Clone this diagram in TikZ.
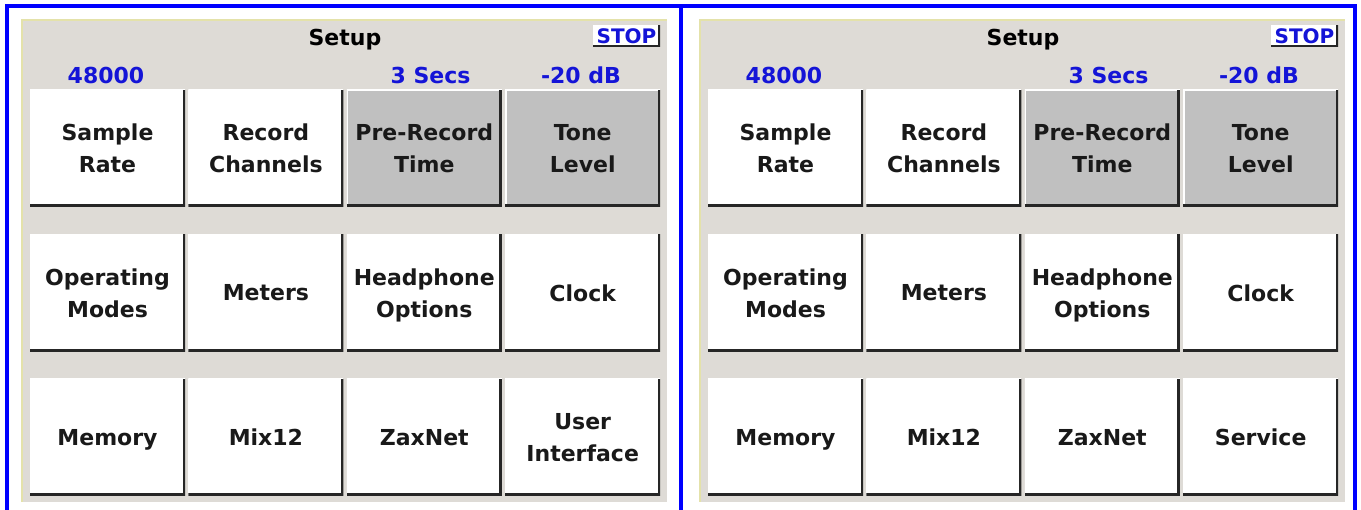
\documentclass[tikz,border=0pt]{standalone}
\usepackage{fontspec}
\setmainfont{DejaVu Sans}
\usetikzlibrary{positioning}
\definecolor{screenbg}{RGB}{222,219,214}
\definecolor{screenedge}{RGB}{228,226,170}
\definecolor{framebl}{RGB}{0,0,255}
\definecolor{valbl}{RGB}{20,20,215}
\definecolor{btngray}{RGB}{192,192,192}

\begin{document}
\begin{tikzpicture}[x=1pt,y=-1pt]
\tikzstyle{btn}=[rectangle, fill=white, inner sep=0pt,
minimum width=155pt, minimum height=117pt, align=center,
font=\fontsize{22}{32}\selectfont\bfseries, text=black!90,
text depth=0pt,
node distance=3pt and 3pt,
path picture={
\draw[line width=3pt,white] (path picture bounding box.south west) -- (path picture bounding box.north west) -- (path picture bounding box.north east);
\draw[line width=5pt,black!85] (path picture bounding box.south west) -- (path picture bounding box.south east) -- (path picture bounding box.north east);}]
\tikzstyle{btnon}=[btn, fill=btngray]
\tikzstyle{val}=[inner sep=0pt, font=\fontsize{22}{26}\selectfont\bfseries, text=valbl]
\tikzstyle{stopbtn}=[rectangle, fill=white, inner sep=0pt,
minimum width=67pt, minimum height=22pt, text=valbl,
font=\fontsize{20}{22}\selectfont\bfseries,
path picture={
\draw[line width=4pt,black!85] (path picture bounding box.south west) -- (path picture bounding box.south east) -- (path picture bounding box.north east);}]

\useasboundingbox (0,0) rectangle (1361,510);
\fill[white] (0,0) rectangle (1361,510);

% two screens, same layout
\foreach \p/\sx/\last in {a/0/{User\\Interface}, b/678/{Service}} {
\begin{scope}[xshift=\sx]
\fill[screenbg] (22,20) rectangle (667,502);
\draw[screenedge,line width=2pt] (22,502) -- (22,20) -- (667,20);

\node[inner sep=0pt,font=\fontsize{22}{26}\selectfont\bfseries] (\p-title) at (345,40) {Setup};
\node[stopbtn] (\p-stop) at (626.5,36) {STOP};
\node[val] (\p-rateval) at (106,75) {48000};
\node[val] (\p-timeval) at (430.5,75) {3 Secs};
\node[val] (\p-toneval) at (581,75) {-20 dB};

\node[btn] (\p-rate) at (107.5,148.5) {Sample\\Rate};
\node[btn,right=of \p-rate] (\p-chan) {Record\\Channels};
\node[btnon,right=of \p-chan] (\p-pre) {Pre-Record\\Time};
\node[btnon,right=of \p-pre] (\p-tone) {Tone\\Level};

\node[btn,below=27pt of \p-rate] (\p-modes) {Operating\\Modes};
\node[btn,right=of \p-modes] (\p-meters) {Meters};
\node[btn,right=of \p-meters] (\p-phones) {Headphone\\Options};
\node[btn,right=of \p-phones] (\p-clock) {Clock};

\node[btn,below=27pt of \p-modes] (\p-mem) {Memory};
\node[btn,right=of \p-mem] (\p-mix) {Mix12};
\node[btn,right=of \p-mix] (\p-zax) {ZaxNet};
\node[btn,right=of \p-zax] (\p-last) {\last};
\end{scope}
}

% blue frame
\draw[framebl,line width=4pt] (7,510) -- (7,6.5) -- (1355,6.5) -- (1355,510);
\draw[framebl,line width=4pt] (681,6.5) -- (681,510);
\end{tikzpicture}
\end{document}
